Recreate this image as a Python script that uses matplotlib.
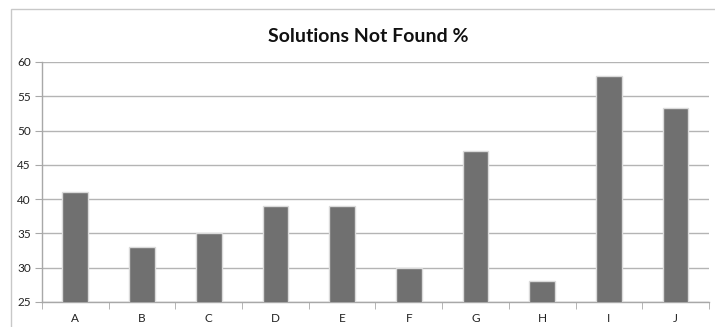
import matplotlib.pyplot as plt
from matplotlib.patches import Rectangle

# Percent of cases where no solution was found
labels = ['A', 'B', 'C', 'D', 'E', 'F', 'G', 'H', 'I', 'J']
not_found = [41, 33, 35, 39, 39, 30, 47, 28, 58, 53.3]

plt.rcParams['font.family'] = ['Lato', 'DejaVu Sans']

fig = plt.figure(figsize=(7.15, 3.27), dpi=100)
ax = fig.add_axes([0.0587, 0.0765, 0.9329, 0.7339])

# light outer frame of the chart
fig.patches.append(Rectangle((11 / 715, -0.1), 1.2, 1 - 9 / 327 + 0.1,
                             transform=fig.transFigure, fill=False,
                             edgecolor='#c8c8c8', linewidth=1))

x = range(len(labels))
ax.bar(x, not_found, width=0.385, bottom=0, color='#707070',
       edgecolor='#dadada', linewidth=1.0, zorder=3)

ax.set_xlim(-0.5, len(labels) - 0.5)
ax.set_ylim(25, 60)
ax.set_yticks(range(25, 61, 5))
ax.set_xticks(list(x))
ax.set_xticklabels(labels)
ax.set_xticks([i - 0.5 for i in range(len(labels) + 1)], minor=True)

ax.grid(axis='y', color='#b4b4b4', linewidth=1, zorder=0)
for side in ['top', 'right']:
    ax.spines[side].set_visible(False)
for side in ['left', 'bottom']:
    ax.spines[side].set_color('#a8a8a8')
    ax.spines[side].set_linewidth(1)

ax.tick_params(axis='y', length=5, color='#a8a8a8', labelsize=8.5,
               labelcolor='#222222', pad=3)
ax.tick_params(axis='x', which='major', length=0, labelsize=8.5,
               labelcolor='#222222', pad=8)
ax.tick_params(axis='x', which='minor', length=5, color='#a8a8a8')

fig.text(368 / 715, 1 - 36 / 327, 'Solutions Not Found %', ha='center',
         va='center', fontsize=14, fontweight='bold', color='#111111')

fig.savefig('out.png', dpi=100)
